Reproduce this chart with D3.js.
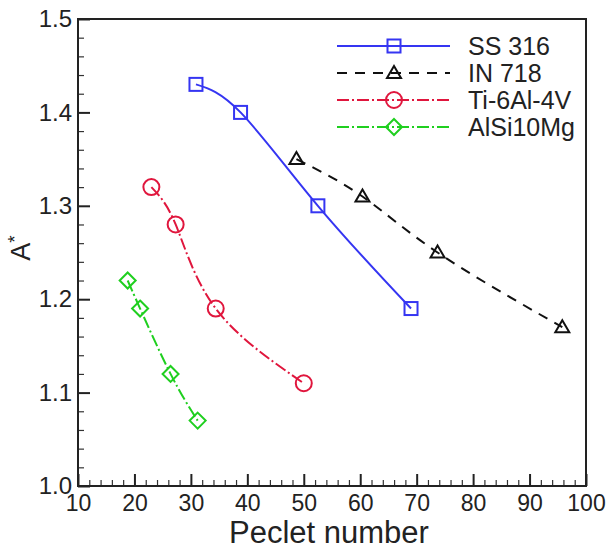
<!DOCTYPE html>
<html>
<head>
<meta charset="utf-8">
<script src="https://cdn.jsdelivr.net/npm/d3@7"></script>
<style>
  html, body { margin: 0; padding: 0; background: #fff; }
  svg { display: block; }
  text { font-family: "Liberation Sans", Arial, sans-serif; fill: #222; }
</style>
</head>
<body>
<svg id="chart" width="609" height="552"></svg>
<script>
// Peclet number vs. normalised A* for four alloys
const ss316X = [30.9, 38.8, 52.5, 69.0];
const ss316Y = [1.43, 1.40, 1.30, 1.19];
const in718X = [48.7, 60.4, 73.7, 95.8];
const in718Y = [1.35, 1.31, 1.25, 1.17];
const ti64X = [23.0, 27.3, 34.4, 50.0];
const ti64Y = [1.32, 1.28, 1.19, 1.11];
const alsiX = [18.8, 21.0, 26.4, 31.2];
const alsiY = [1.22, 1.19, 1.12, 1.07];

const seriesNames = ["SS 316", "IN 718", "Ti-6Al-4V", "AlSi10Mg"];
const xTicks = [10, 20, 30, 40, 50, 60, 70, 80, 90, 100];
const yTicks = [1.0, 1.1, 1.2, 1.3, 1.4, 1.5];
const xLabel = "Peclet number";

const series = [
  { name: seriesNames[0], xs: ss316X, ys: ss316Y, color: "#3535f2", dash: null, marker: "square" },
  { name: seriesNames[1], xs: in718X, ys: in718Y, color: "#111111", dash: "10,8", marker: "triangle" },
  { name: seriesNames[2], xs: ti64X, ys: ti64Y, color: "#e0163d", dash: "12,3,2,3", marker: "circle" },
  { name: seriesNames[3], xs: alsiX, ys: alsiY, color: "#1fcf1f", dash: "12,3,2,3", marker: "diamond" }
];

const svg = d3.select("#chart");
const m = { left: 78, top: 19, right: 23, bottom: 66 };
const W = 609 - m.left - m.right;
const H = 552 - m.top - m.bottom;

const x = d3.scaleLinear().domain([10, 100]).range([0, W]);
const y = d3.scaleLinear().domain([1.0, 1.5]).range([H, 0]);

const g = svg.append("g").attr("transform", `translate(${m.left},${m.top})`);

// minor ticks
const xMinor = d3.range(12, 100, 2).filter(v => v % 10 !== 0);
const yMinor = d3.range(1.02, 1.5, 0.02).filter(v => Math.abs(v * 10 - Math.round(v * 10)) > 1e-6);
g.append("g").attr("transform", `translate(0,${H})`)
  .call(d3.axisBottom(x).tickValues(xMinor).tickSize(-6).tickFormat(""))
  .call(a => a.select(".domain").remove())
  .selectAll("line").attr("stroke", "#333").attr("stroke-width", 1.2);
g.append("g")
  .call(d3.axisLeft(y).tickValues(yMinor).tickSize(-6).tickFormat(""))
  .call(a => a.select(".domain").remove())
  .selectAll("line").attr("stroke", "#333").attr("stroke-width", 1.2);

// major ticks and labels
const xAxis = g.append("g").attr("transform", `translate(0,${H})`)
  .call(d3.axisBottom(x).tickValues(xTicks).tickSize(-12).tickPadding(9).tickFormat(d3.format("d")));
xAxis.select(".domain").remove();
xAxis.selectAll("line").attr("stroke", "#222").attr("stroke-width", 2);
xAxis.selectAll("text").style("font-size", "23px").attr("fill", "#222");

const yAxis = g.append("g")
  .call(d3.axisLeft(y).tickValues(yTicks).tickSize(-12).tickPadding(6).tickFormat(d3.format(".1f")));
yAxis.select(".domain").remove();
yAxis.selectAll("line").attr("stroke", "#222").attr("stroke-width", 2);
yAxis.selectAll("text").style("font-size", "24px").attr("fill", "#222");

// frame
g.append("rect").attr("x", 0).attr("y", 0).attr("width", W).attr("height", H)
  .attr("fill", "none").attr("stroke", "#222").attr("stroke-width", 2);

// axis titles
g.append("text").attr("x", W / 2 - 3).attr("y", H + 57)
  .attr("text-anchor", "middle").style("font-size", "31px").text(xLabel);
const yt = svg.append("text")
  .attr("transform", "translate(30,248) rotate(-90)")
  .attr("text-anchor", "middle").style("font-size", "27px");
yt.append("tspan").text("A");
yt.append("tspan").attr("dy", "-0.45em").style("font-size", "19px").text("*");

// marker drawing
function drawMarker(sel, type, color) {
  if (type === "square") {
    sel.append("rect").attr("x", -6.5).attr("y", -6.5).attr("width", 13).attr("height", 13);
  } else if (type === "triangle") {
    sel.append("path").attr("d", "M0,-7 L7,5 L-7,5 Z");
  } else if (type === "circle") {
    sel.append("circle").attr("r", 8);
  } else {
    sel.append("path").attr("d", "M0,-8 L8,0 L0,8 L-8,0 Z");
  }
  sel.selectAll("*").attr("fill", "none").attr("stroke", color).attr("stroke-width", 2);
}

const line = d3.line().x(d => x(d[0])).y(d => y(d[1])).curve(d3.curveNatural);

series.forEach(s => {
  const pts = s.xs.map((v, i) => [v, s.ys[i]]);
  g.append("path").datum(pts).attr("d", line)
    .attr("fill", "none").attr("stroke", s.color).attr("stroke-width", 2)
    .attr("stroke-dasharray", s.dash);
  pts.forEach(p => {
    const mk = g.append("g").attr("transform", `translate(${x(p[0])},${y(p[1])})`);
    drawMarker(mk, s.marker, s.color);
  });
});

// legend
const leg = svg.append("g");
series.forEach((s, i) => {
  const ly = 46 + i * 27;
  leg.append("line").attr("x1", 337).attr("x2", 450).attr("y1", ly).attr("y2", ly)
    .attr("stroke", s.color).attr("stroke-width", 2).attr("stroke-dasharray", s.dash);
  const mk = leg.append("g").attr("transform", `translate(394,${ly})`);
  drawMarker(mk, s.marker, s.color);
  leg.append("text").attr("x", 468).attr("y", ly).attr("dy", "0.36em")
    .style("font-size", "25px").text(s.name);
});
</script>
</body>
</html>
